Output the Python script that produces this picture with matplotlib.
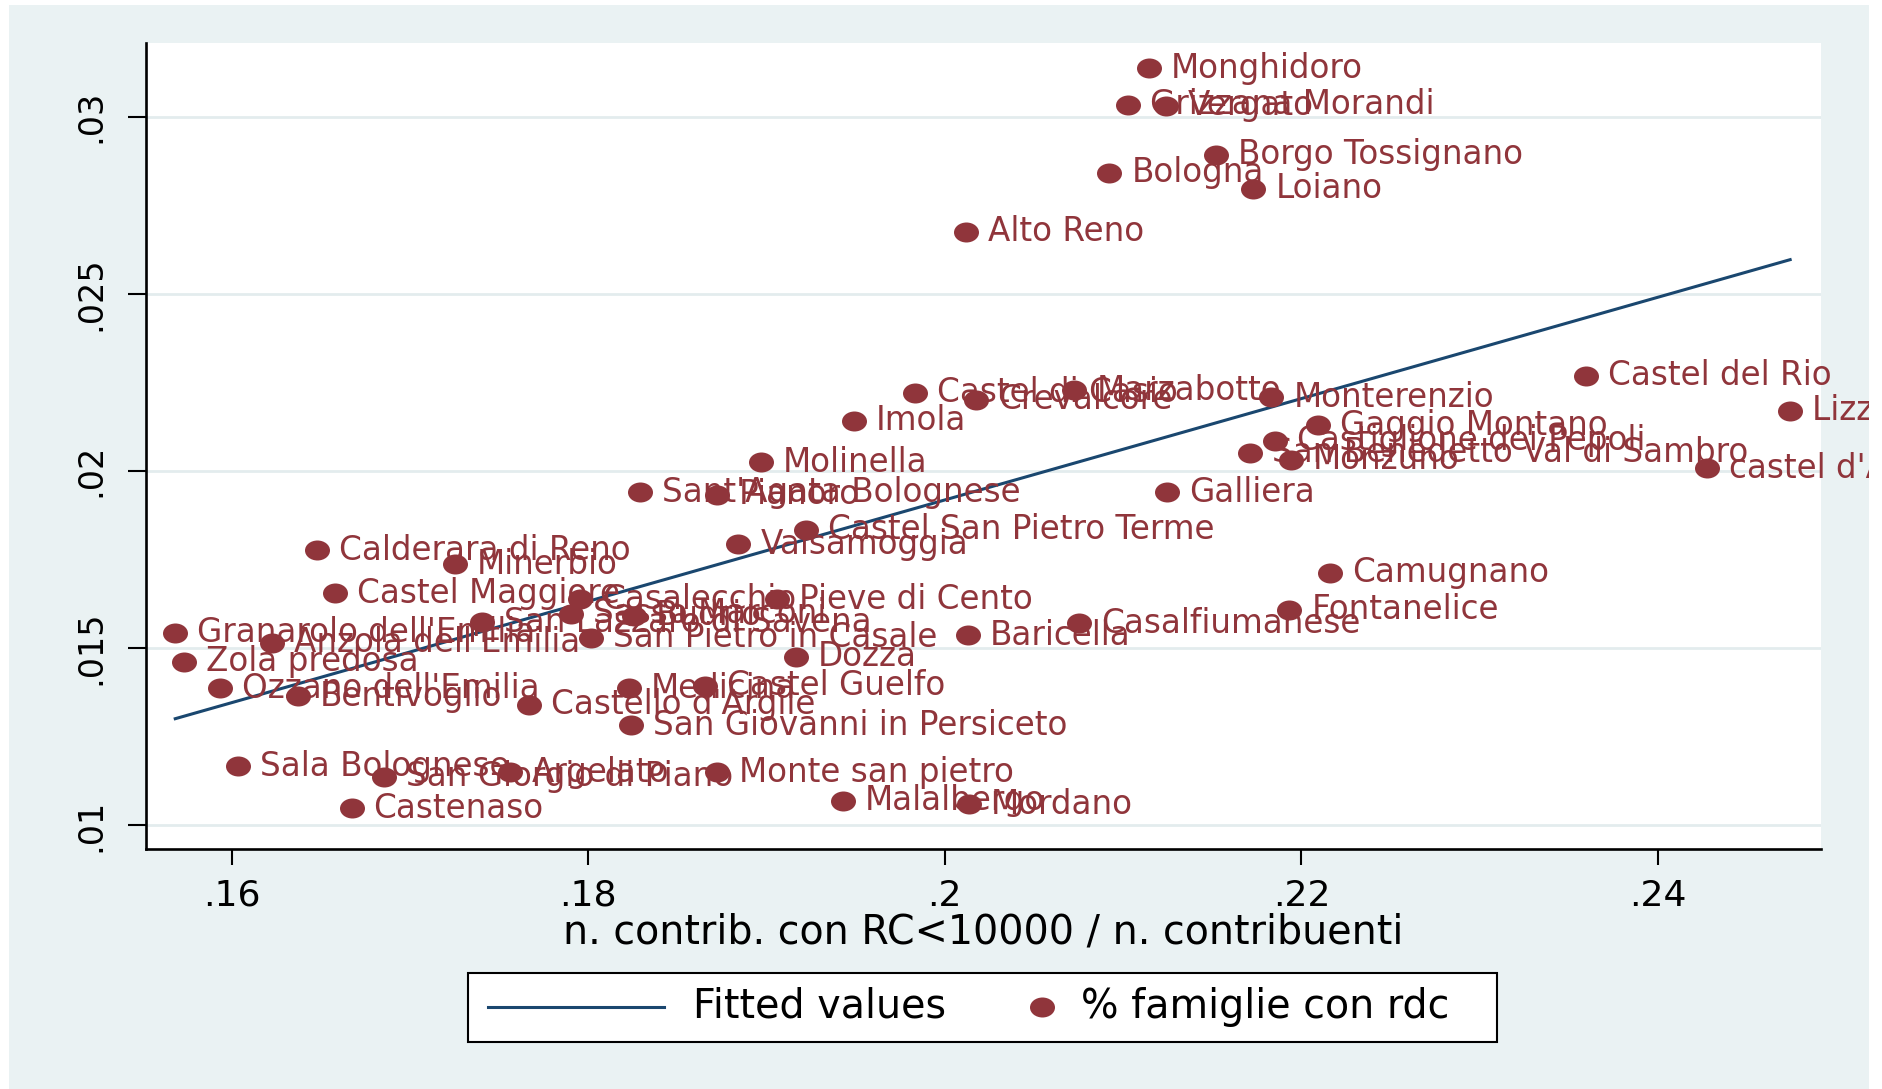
import numpy as np
import matplotlib.pyplot as plt
from matplotlib.patches import Rectangle
from matplotlib.lines import Line2D
from matplotlib.path import Path
from matplotlib.transforms import Bbox, TransformedBbox, ScaledTranslation

# Comuni della città metropolitana di Bologna
comuni = [
    "Monghidoro", "Grizzana Morandi", "Vergato", "Borgo Tossignano", "Bologna",
    "Loiano", "Alto Reno", "Castel di Casio", "Marzabotto", "Crevalcore",
    "Monterenzio", "Castel del Rio", "Lizzano in Belvedere", "Gaggio Montano",
    "Castiglione dei Pepoli", "San Benedetto Val di Sambro", "Monzuno",
    "castel d'Aiano", "Imola", "Molinella", "Sant'Agata Bolognese", "Pianoro",
    "Galliera", "Castel San Pietro Terme", "Valsamoggia", "Calderara di Reno",
    "Minerbio", "Camugnano", "Castel Maggiore", "Casalecchio", "Pieve di Cento",
    "Sasso Marconi", "Budrio", "San Lazzaro di Savena", "Granarolo dell'Emilia",
    "Anzola dell'Emilia", "San Pietro in Casale", "Fontanelice", "Casalfiumanese",
    "Baricella", "Dozza", "Zola predosa", "Ozzano dell'Emilia", "Bentivoglio",
    "Medicina", "Castel Guelfo", "Castello d'Argile", "San Giovanni in Persiceto",
    "Sala Bolognese", "San Giorgio di Piano", "Argelato", "Monte san pietro",
    "Malalbergo", "Mordano", "Castenaso",
]

# n. contrib. con RC<10000 / n. contribuenti
quota_rc = [
    0.21145, 0.21030, 0.21239, 0.21522, 0.20923,
    0.21731, 0.20121, 0.19832, 0.20727, 0.20175,
    0.21832, 0.23596, 0.24741, 0.22094,
    0.21852, 0.21710, 0.21939,
    0.24276, 0.19488, 0.18970, 0.18290, 0.18721,
    0.21246, 0.19219, 0.18842, 0.16478,
    0.17253, 0.22162, 0.16579, 0.17953, 0.19057,
    0.17906, 0.18256, 0.17407, 0.15684,
    0.16229, 0.18013, 0.21933, 0.20754,
    0.20128, 0.19165, 0.15731, 0.15933, 0.16370,
    0.18229, 0.18653, 0.17670, 0.18242,
    0.16034, 0.16855, 0.17562, 0.18721,
    0.19428, 0.20135, 0.16673,
]

# % famiglie con rdc
fam_rdc = [
    0.03136, 0.03034, 0.03031, 0.02892, 0.02841,
    0.02797, 0.02675, 0.02220, 0.02227, 0.02200,
    0.02207, 0.02268, 0.02169, 0.02129,
    0.02085, 0.02051, 0.02031,
    0.02007, 0.02142, 0.02024, 0.01939, 0.01932,
    0.01939, 0.01834, 0.01793, 0.01776,
    0.01736, 0.01712, 0.01654, 0.01637, 0.01637,
    0.01597, 0.01590, 0.01573, 0.01542,
    0.01515, 0.01529, 0.01607, 0.01569,
    0.01536, 0.01475, 0.01461, 0.01386, 0.01363,
    0.01386, 0.01393, 0.01339, 0.01281,
    0.01166, 0.01136, 0.01149, 0.01149,
    0.01068, 0.01058, 0.01047,
]

xticks = [0.16, 0.18, 0.20, 0.22, 0.24]
xtick_labels = [".16", ".18", ".2", ".22", ".24"]
yticks = [0.01, 0.015, 0.02, 0.025, 0.03]
ytick_labels = [".01", ".015", ".02", ".025", ".03"]

NAVY = "#1A476F"
MAROON = "#90353B"
BG = "#EAF2F3"

W, H = 1883, 1089
fig = plt.figure(figsize=(W / 100, H / 100), dpi=100, facecolor="white")

def fx(px):
    return px / W

def fy(py):
    return 1 - py / H

# slightly wide dot marker
circ = Path.unit_circle()
dot = Path(circ.vertices * [1.25, 1.0], circ.codes)

# graph region
fig.patches.append(Rectangle((fx(9), 0), fx(1869) - fx(9), fy(5), transform=fig.transFigure,
                             facecolor=BG, edgecolor="none", zorder=-10))

ax = fig.add_axes([fx(146), fy(849), fx(1821) - fx(146), fy(43) - fy(849)])
ax.set_facecolor("white")
ax.set_xlim(0.15520, 0.24914)
ax.set_ylim(0.00932, 0.03208)

x = np.array(quota_rc)
y = np.array(fam_rdc)

# linear fit
b, a = np.polyfit(x, y, 1)
xf = np.array([x.min(), x.max()])
ax.plot(xf, a + b * xf, color=NAVY, lw=2.2, zorder=2)

ax.plot(x, y, linestyle="none", marker=dot, color=MAROON, markersize=18,
        markeredgewidth=0, zorder=3)

clip = TransformedBbox(Bbox([[fx(9), 0], [fx(1869), 1]]), fig.transFigure)
offset = ax.transData + ScaledTranslation(22 / 100, 0, fig.dpi_scale_trans)
for name, xi, yi in zip(comuni, x, y):
    t = ax.text(xi, yi, name, transform=offset, color=MAROON, fontsize=23.5,
                ha="left", va="center", zorder=4)
    t.set_clip_box(clip)
    t.set_clip_on(True)

ax.set_yticks(yticks)
ax.set_yticklabels(ytick_labels)
ax.set_xticks(xticks)
ax.set_xticklabels(xtick_labels)
ax.tick_params(axis="y", length=13, width=1.5, pad=15, labelsize=24, labelrotation=90)
ax.tick_params(axis="x", length=11.5, width=1.5, pad=10, labelsize=26)
for lab in ax.get_yticklabels():
    lab.set_va("center")

ax.grid(axis="y", color="#E3ECEE", lw=2)
ax.set_axisbelow(True)
for side in ["top", "right"]:
    ax.spines[side].set_visible(False)
for side in ["left", "bottom"]:
    ax.spines[side].set_linewidth(1.9)

ax.set_xlabel("n. contrib. con RC<10000 / n. contribuenti", fontsize=28.5, labelpad=0)

# legend
fig.patches.append(Rectangle((fx(468), fy(1042)), fx(1497) - fx(468), fy(973) - fy(1042),
                             transform=fig.transFigure, facecolor="white",
                             edgecolor="black", lw=1.5, zorder=5))
fig.lines.append(Line2D([fx(488), fx(664)], [fy(1007), fy(1007)], transform=fig.transFigure,
                        color=NAVY, lw=2.2, zorder=6))
fig.lines.append(Line2D([fx(1042)], [fy(1007)], transform=fig.transFigure, marker=dot,
                        color=MAROON, markersize=18, markeredgewidth=0, zorder=6))
fig.text(fx(693), fy(1007), "Fitted values", fontsize=28.5, va="center", ha="left", zorder=6)
fig.text(fx(1081), fy(1007), "% famiglie con rdc", fontsize=28.5, va="center", ha="left", zorder=6)

fig.savefig("out.png", dpi=100, facecolor="white")
